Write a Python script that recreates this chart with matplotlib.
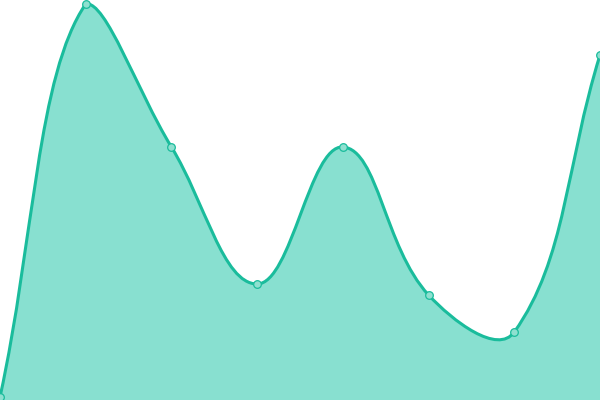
import numpy as np
import matplotlib
matplotlib.use("Agg")
import matplotlib.pyplot as plt
from matplotlib.path import Path
from matplotlib.patches import PathPatch

# data
labels = ["A", "B", "C", "D", "E", "F", "G", "H"]
values = [3, 396, 253, 116, 253, 105, 68, 345]

line_color = "#1abc9c"
fill_color = "#88e0d0"

fig = plt.figure(figsize=(6, 4), dpi=100)
ax = fig.add_axes([0, 0, 1, 1])
ax.set_xlim(0, len(labels) - 1)
ax.set_ylim(0, 400)
ax.axis("off")

# smooth curve like a tension-0.4 spline, computed in pixel space
x = np.arange(len(labels), dtype=float)
y = np.array(values, dtype=float)
sx = 600 / (len(labels) - 1)
px, py = x * sx, y
tension = 0.4
cps = []
for i in range(len(px)):
    p0 = (px[max(i - 1, 0)], py[max(i - 1, 0)])
    p1 = (px[i], py[i])
    p2 = (px[min(i + 1, len(px) - 1)], py[min(i + 1, len(px) - 1)])
    d01 = np.hypot(p1[0] - p0[0], p1[1] - p0[1])
    d12 = np.hypot(p2[0] - p1[0], p2[1] - p1[1])
    tot = d01 + d12 if d01 + d12 else 1
    fa = tension * d01 / tot
    fb = tension * d12 / tot
    prev = (p1[0] - fa * (p2[0] - p0[0]), p1[1] - fa * (p2[1] - p0[1]))
    nxt = (p1[0] + fb * (p2[0] - p0[0]), p1[1] + fb * (p2[1] - p0[1]))
    prev = (prev[0], min(max(prev[1], 0), 400))
    nxt = (nxt[0], min(max(nxt[1], 0), 400))
    cps.append((prev, nxt))

verts = [(px[0] / sx, py[0])]
codes = [Path.MOVETO]
for i in range(len(px) - 1):
    c1 = cps[i][1]
    c2 = cps[i + 1][0]
    verts += [(c1[0] / sx, c1[1]), (c2[0] / sx, c2[1]), (x[i + 1], y[i + 1])]
    codes += [Path.CURVE4] * 3

line_path = Path(verts, codes)
fill_path = Path(verts + [(x[-1], 0), (x[0], 0), verts[0]],
                 codes + [Path.LINETO, Path.LINETO, Path.CLOSEPOLY])

ax.add_patch(PathPatch(fill_path, facecolor=fill_color, edgecolor="none"))
ax.add_patch(PathPatch(line_path, facecolor="none", edgecolor=line_color, lw=2.2))
ax.plot(x, y, "o", ms=5.5, mfc="#8fe0d0", mec=line_color, mew=0.9, clip_on=False)

fig.savefig("out.png", dpi=100)
